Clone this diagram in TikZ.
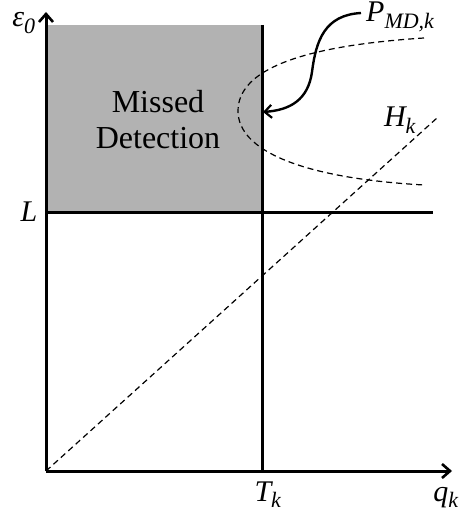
\documentclass[tikz,border=0pt]{standalone}
\usepackage{fontspec}
\setmainfont{Liberation Serif}
\usetikzlibrary{arrows.meta}
\begin{document}
\begin{tikzpicture}[x=1pt,y=-1pt,
  axis/.style={line width=3pt,-{Straight Barb[length=8pt,width=14pt,line width=2.6pt]}},
  solidline/.style={line width=3pt},
  dashline/.style={dashed,dash pattern=on 6pt off 4pt,line width=1.2pt},
  lbl/.style={font=\fontsize{30}{32}\selectfont\itshape,inner sep=0pt}]
\newcommand{\subk}[1]{\textsubscript{\fontsize{22}{22}\selectfont #1}}
\useasboundingbox (0,0) rectangle (464,518);
\fill[gray!60] (47,25) rectangle (262,213);
\node[font=\fontsize{32}{36}\selectfont,align=center] (md) at (158,120) {Missed\\Detection};
\coordinate (O) at (46,471);
\coordinate (ytop) at (46,12);
\coordinate (xend) at (452,471);
\draw[axis] (O) -- (ytop);
\draw[axis] (O) -- (xend);
\coordinate (Ttop) at (262,25);
\coordinate (Tbot) at (262,471);
\draw[solidline] (Ttop) -- (Tbot);
\coordinate (Lleft) at (46,213);
\coordinate (Lright) at (433,213);
\draw[solidline] (Lleft) -- (Lright);
\coordinate (Hend) at (437,118);
\draw[dashline] (O) -- (Hend);
\coordinate (ptop) at (424,38);
\coordinate (pbot) at (424,185);
\draw[dashline] (ptop) .. controls (300,46) and (238,70) .. (238,111) .. controls (238,150) and (300,178) .. (pbot);
\node[lbl,anchor=base] (eps) at (24,27) {ε\subk{0}};
\node[lbl,anchor=base] (L) at (29,222) {L};
\node[lbl,anchor=base] (T) at (268,501) {T\subk{k}};
\node[lbl,anchor=base] (q) at (446,501) {q\subk{k}};
\node[lbl,anchor=base] (H) at (400,127) {H\subk{k}};
\node[lbl,anchor=base west] (P) at (366,22) {P\subk{MD,k}};
\coordinate (Pstart) at (361,13);
\coordinate (ptip) at (263,112);
\draw[line width=2.4pt,-{Straight Barb[length=7pt,width=13pt,line width=2.2pt]}] (Pstart) .. controls (325,15) and (316,40) .. (312,72) .. controls (308,100) and (290,110) .. (ptip);
\end{tikzpicture}
\end{document}
